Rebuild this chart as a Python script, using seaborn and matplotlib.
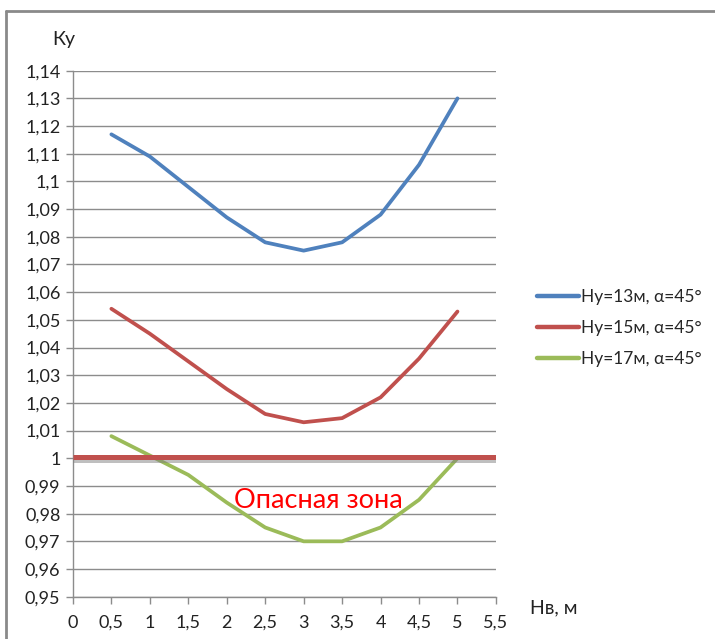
import seaborn as sns
import matplotlib.pyplot as plt
import matplotlib.patheffects as pe
from matplotlib.lines import Line2D
import pandas as pd

# data
HB = [0.5, 1.0, 1.5, 2.0, 2.5, 3.0, 3.5, 4.0, 4.5, 5.0]
KY_13 = [1.117, 1.109, 1.098, 1.087, 1.078, 1.075, 1.078, 1.088, 1.106, 1.130]
KY_15 = [1.054, 1.045, 1.035, 1.025, 1.016, 1.013, 1.0145, 1.022, 1.036, 1.053]
KY_17 = [1.008, 1.001, 0.994, 0.984, 0.975, 0.970, 0.970, 0.975, 0.985, 1.000]
LABELS = ['Ну=13м, α=45°', 'Ну=15м, α=45°', 'Ну=17м, α=45°']
DANGER_X = [0.0, 5.5]
DANGER_Y = [1.0005, 1.0005]
X_TICKS = [0, 0.5, 1, 1.5, 2, 2.5, 3, 3.5, 4, 4.5, 5, 5.5]
Y_TICKS = [0.95, 0.96, 0.97, 0.98, 0.99, 1.00, 1.01, 1.02, 1.03, 1.04, 1.05,
           1.06, 1.07, 1.08, 1.09, 1.10, 1.11, 1.12, 1.13, 1.14]

BLUE, RED, GREEN = '#4F81BD', '#C0504D', '#9BBB59'
GRID = '#8c8c8c'

sns.set_theme(style='white')
plt.rcParams['font.family'] = ['Lato', 'Noto Sans', 'DejaVu Sans']

df = pd.DataFrame({
    'Hb': HB * 3,
    'Ky': KY_13 + KY_15 + KY_17,
    'series': [LABELS[0]] * len(HB) + [LABELS[1]] * len(HB) + [LABELS[2]] * len(HB),
})

fig = plt.figure(figsize=(7.15, 6.39), dpi=100, facecolor='white')
ax = fig.add_axes([0.102, 0.0662, 0.5916, 0.8232])

sns.lineplot(data=df, x='Hb', y='Ky', hue='series', hue_order=LABELS,
             palette=[BLUE, RED, GREEN], linewidth=2.7, ax=ax, legend=False,
             solid_capstyle='round', solid_joinstyle='round', zorder=3)

# danger threshold line with a soft shadow
ax.plot(DANGER_X, DANGER_Y, color=RED, linewidth=3.6, zorder=4,
        solid_capstyle='butt',
        path_effects=[pe.SimpleLineShadow(offset=(0, -2), shadow_color='gray', alpha=0.5),
                      pe.Normal()])

ax.text(3.19, 0.9848, 'Опасная зона', color='#FF0000', fontsize=19.5,
        ha='center', va='center', zorder=5)

ax.set_xlim(0, 5.5)
ax.set_ylim(0.95, 1.14)
ax.set_xticks(X_TICKS)
ax.set_xticklabels([f'{t:g}'.replace('.', ',') for t in X_TICKS])
ax.set_yticks(Y_TICKS)
ax.set_yticklabels([f'{t:.2f}'.rstrip('0').rstrip('.').replace('.', ',') for t in Y_TICKS])
ax.set_xlabel('')
ax.set_ylabel('')
ax.grid(axis='y', color=GRID, linewidth=1.0)
ax.grid(axis='x', visible=False)
ax.set_axisbelow(True)
for side in ['top', 'right']:
    ax.spines[side].set_visible(False)
for side in ['left', 'bottom']:
    ax.spines[side].set_color(GRID)
    ax.spines[side].set_linewidth(1.0)
ax.tick_params(axis='both', which='major', direction='out', length=5, width=1,
               color=GRID, labelsize=13, labelcolor='#222222')
ax.tick_params(axis='y', left=True, pad=4)
ax.tick_params(axis='x', bottom=True, pad=8)

fig.text(52 / 715, 1 - 40 / 639, 'Ку', fontsize=14, color='#222222', va='center', ha='left')
fig.text(530 / 715, 1 - 608 / 639, 'Нв, м', fontsize=14, color='#222222', va='center', ha='left')

handles = [Line2D([], [], color=c, linewidth=3.2) for c in [BLUE, RED, GREEN]]
fig.legend(handles, LABELS, loc='center left', bbox_to_anchor=(537 / 715, 1 - 328 / 639),
           frameon=False, fontsize=12.5, handlelength=2.4, handletextpad=0.12,
           labelspacing=0.85, borderpad=0, borderaxespad=0)

# chart frame (top and left edges visible in the crop)
fig.add_artist(Line2D([6 / 715, 6 / 715], [0, 1 - 11 / 639], transform=fig.transFigure,
                      color='#8a8a8a', linewidth=2))
fig.add_artist(Line2D([6 / 715, 1], [1 - 11 / 639, 1 - 11 / 639], transform=fig.transFigure,
                      color='#8a8a8a', linewidth=2))

fig.savefig('out.png', dpi=100, facecolor='white')
